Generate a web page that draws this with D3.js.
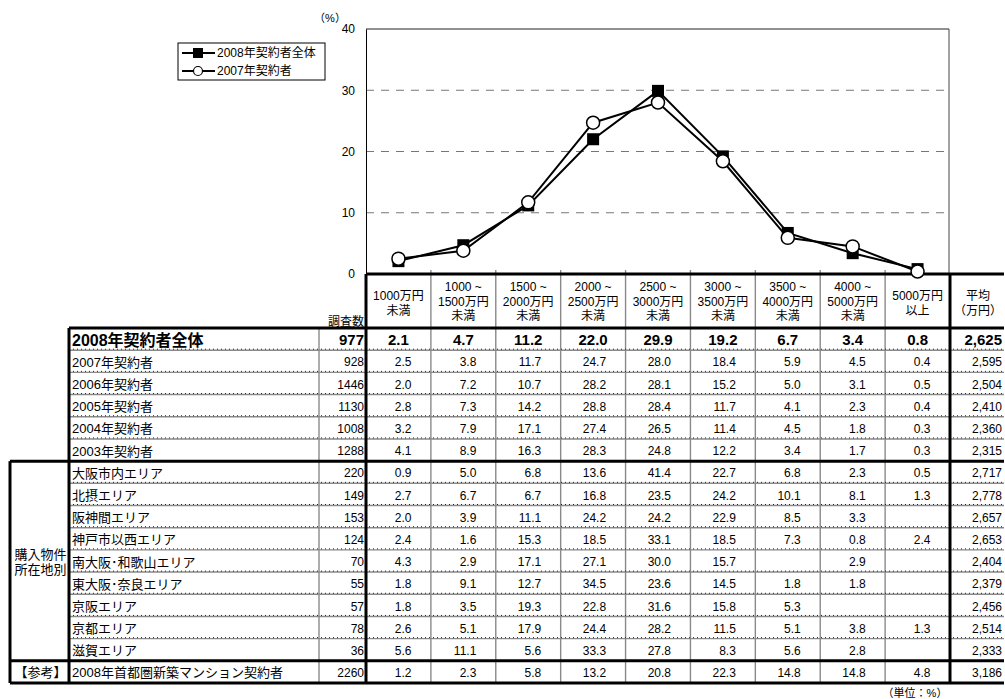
<!DOCTYPE html>
<html>
<head>
<meta charset="utf-8">
<script src="https://cdn.jsdelivr.net/npm/d3@7"></script>
<style>
  body { margin: 0; background: #fff; }
  text { font-family: "Liberation Sans", "Noto Sans CJK JP", sans-serif; fill: #000; }
</style>
</head>
<body>
<svg id="chart"></svg>
<script>
const categories = ["1000万円未満", "1000~1500万円未満", "1500~2000万円未満", "2000~2500万円未満",
  "2500~3000万円未満", "3000~3500万円未満", "3500~4000万円未満", "4000~5000万円未満", "5000万円以上"];
const categoryLines = [
  ["1000万円", "未満"], ["1000 ~", "1500万円", "未満"], ["1500 ~", "2000万円", "未満"],
  ["2000 ~", "2500万円", "未満"], ["2500 ~", "3000万円", "未満"], ["3000 ~", "3500万円", "未満"],
  ["3500 ~", "4000万円", "未満"], ["4000 ~", "5000万円", "未満"], ["5000万円", "以上"]
];
const seriesNames = ["2008年契約者全体", "2007年契約者"];
const series2008 = [2.1, 4.7, 11.2, 22.0, 29.9, 19.2, 6.7, 3.4, 0.8];
const series2007 = [2.5, 3.8, 11.7, 24.7, 28.0, 18.4, 5.9, 4.5, 0.4];
const yTicks = [0, 10, 20, 30, 40];

const rowLabels = ["2008年契約者全体", "2007年契約者", "2006年契約者", "2005年契約者", "2004年契約者",
  "2003年契約者", "大阪市内エリア", "北摂エリア", "阪神間エリア", "神戸市以西エリア",
  "南大阪･和歌山エリア", "東大阪･奈良エリア", "京阪エリア", "京都エリア", "滋賀エリア",
  "2008年首都圏新築マンション契約者"];
const rowCounts = [977, 928, 1446, 1130, 1008, 1288, 220, 149, 153, 124, 70, 55, 57, 78, 36, 2260];
const rowValues = [
  [2.1, 4.7, 11.2, 22.0, 29.9, 19.2, 6.7, 3.4, 0.8],
  [2.5, 3.8, 11.7, 24.7, 28.0, 18.4, 5.9, 4.5, 0.4],
  [2.0, 7.2, 10.7, 28.2, 28.1, 15.2, 5.0, 3.1, 0.5],
  [2.8, 7.3, 14.2, 28.8, 28.4, 11.7, 4.1, 2.3, 0.4],
  [3.2, 7.9, 17.1, 27.4, 26.5, 11.4, 4.5, 1.8, 0.3],
  [4.1, 8.9, 16.3, 28.3, 24.8, 12.2, 3.4, 1.7, 0.3],
  [0.9, 5.0, 6.8, 13.6, 41.4, 22.7, 6.8, 2.3, 0.5],
  [2.7, 6.7, 6.7, 16.8, 23.5, 24.2, 10.1, 8.1, 1.3],
  [2.0, 3.9, 11.1, 24.2, 24.2, 22.9, 8.5, 3.3, null],
  [2.4, 1.6, 15.3, 18.5, 33.1, 18.5, 7.3, 0.8, 2.4],
  [4.3, 2.9, 17.1, 27.1, 30.0, 15.7, null, 2.9, null],
  [1.8, 9.1, 12.7, 34.5, 23.6, 14.5, 1.8, 1.8, null],
  [1.8, 3.5, 19.3, 22.8, 31.6, 15.8, 5.3, null, null],
  [2.6, 5.1, 17.9, 24.4, 28.2, 11.5, 5.1, 3.8, 1.3],
  [5.6, 11.1, 5.6, 33.3, 27.8, 8.3, 5.6, 2.8, null],
  [1.2, 2.3, 5.8, 13.2, 20.8, 22.3, 14.8, 14.8, 4.8]
];
const rowAverages = [2625, 2595, 2504, 2410, 2360, 2315, 2717, 2778, 2657, 2653, 2404, 2379, 2456, 2514, 2333, 3186];
const groupLabels = [
  { lines: ["購入物件", "所在地別"], from: 6, to: 14 },
  { lines: ["【参考】"], from: 15, to: 15 }
];

const w = 1005, h = 699;
const plotL = 366, plotR = 950, plotT = 29, axisY = 274;
const tableTop = 328, tableBottom = 683;
const labelX = 69, countX = 319, groupX = 10, endX = 1004;

const svg = d3.select("#chart").attr("width", w).attr("height", h);

const xScale = d3.scaleBand().domain(categories).range([plotL, plotR]);
const yScale = d3.scaleLinear().domain([0, 40]).range([axisY, plotT]);
const rowScale = d3.scaleBand().domain(d3.range(rowLabels.length)).range([tableTop, tableBottom]);
const cx = (i) => xScale(categories[i]) + xScale.bandwidth() / 2;

// gridlines
svg.append("g").selectAll("line")
  .data(yTicks.filter((t) => t > 0 && t < 40))
  .enter().append("line")
  .attr("x1", plotL).attr("x2", plotR - 1)
  .attr("y1", (d) => yScale(d)).attr("y2", (d) => yScale(d))
  .attr("stroke", "#777").attr("stroke-width", 1).attr("stroke-dasharray", "8,7");

// plot frame
svg.append("line").attr("x1", plotL).attr("x2", plotR - 1).attr("y1", plotT).attr("y2", plotT)
  .attr("stroke", "#222").attr("stroke-width", 1);
svg.append("line").attr("x1", plotR - 1).attr("x2", plotR - 1).attr("y1", plotT).attr("y2", axisY)
  .attr("stroke", "#444").attr("stroke-width", 1);

const yAxis = d3.axisLeft(yScale).tickValues(yTicks).tickSize(0).tickPadding(11);
const yG = svg.append("g").attr("transform", `translate(${plotL}, 0)`).call(yAxis);
yG.select(".domain").attr("stroke", "#000").attr("stroke-width", 1);
yG.selectAll("text").style("font-size", "12px").attr("font-family", null);

svg.append("text").attr("x", 330).attr("y", 22).attr("text-anchor", "middle")
  .style("font-size", "11px").text("（%）");

// table grid (thin)
const thin = svg.append("g").attr("stroke", "#8a8a8a").attr("stroke-width", 1.4);
rowLabels.forEach((d, i) => {
  if (i === 0 || i === 6 || i === 15) return;
  const y = rowScale(i);
  thin.append("line").attr("x1", labelX).attr("x2", endX).attr("y1", y).attr("y2", y);
});
categories.forEach((c, i) => {
  if (i === 0) return;
  thin.append("line").attr("x1", xScale(c)).attr("x2", xScale(c))
    .attr("y1", axisY - 4).attr("y2", tableBottom);
});
thin.append("line").attr("x1", countX).attr("x2", countX).attr("y1", tableTop).attr("y2", tableBottom);

// dotted overlay on thin lines
const dots = svg.append("g").attr("stroke", "#222").attr("stroke-width", 1).attr("stroke-dasharray", "1,3");
rowLabels.forEach((d, i) => {
  if (i === 0 || i === 6 || i === 15) return;
  const y = rowScale(i);
  dots.append("line").attr("x1", labelX).attr("x2", endX).attr("y1", y - 1).attr("y2", y - 1);
});

// thick lines
const thick = svg.append("g").attr("stroke", "#000").attr("stroke-width", 3);
thick.append("line").attr("x1", plotL).attr("x2", endX).attr("y1", axisY).attr("y2", axisY);
thick.append("line").attr("x1", labelX).attr("x2", endX).attr("y1", tableTop).attr("y2", tableTop);
[6, 15].forEach((i) => {
  thick.append("line").attr("x1", groupX).attr("x2", endX).attr("y1", rowScale(i)).attr("y2", rowScale(i));
});
thick.append("line").attr("x1", groupX).attr("x2", endX).attr("y1", tableBottom).attr("y2", tableBottom);
thick.append("line").attr("x1", plotL).attr("x2", plotL).attr("y1", axisY).attr("y2", tableBottom);
thick.append("line").attr("x1", plotR).attr("x2", plotR).attr("y1", axisY).attr("y2", tableBottom);
thick.append("line").attr("x1", labelX).attr("x2", labelX).attr("y1", tableTop).attr("y2", tableBottom);
thick.append("line").attr("x1", groupX).attr("x2", groupX).attr("y1", rowScale(6)).attr("y2", tableBottom);

// header
const header = svg.append("g").style("font-size", "12px").attr("text-anchor", "middle");
categoryLines.forEach((lines, i) => {
  const y0 = lines.length === 3 ? 287 : 296;
  lines.forEach((t, j) => {
    header.append("text").attr("x", cx(i)).attr("y", y0 + j * 14.5).attr("dy", "0.35em").text(t);
  });
});
["平均", "（万円）"].forEach((t, j) => {
  header.append("text").attr("x", (plotR + endX) / 2 + 1).attr("y", 296 + j * 14.5).attr("dy", "0.35em").text(t);
});
header.append("text").attr("x", 364).attr("y", 322).attr("dy", "0.35em")
  .attr("text-anchor", "end").text("調査数");

// rows
const rows = svg.append("g").selectAll("g").data(rowLabels).enter().append("g")
  .attr("transform", (d, i) => `translate(0, ${rowScale(i) + rowScale.bandwidth() / 2 + 1})`)
  .style("font-size", (d, i) => (i === 0 ? "15px" : "12px"))
  .style("font-weight", (d, i) => (i === 0 ? "bold" : "normal"));

rows.append("text").attr("x", 72).attr("dy", "0.35em")
  .style("font-size", (d, i) => (i === 0 ? "16px" : "13px")).text((d) => d);
rows.append("text").attr("x", 364).attr("dy", "0.35em").attr("text-anchor", "end")
  .text((d, i) => rowCounts[i]);
rows.each(function (d, i) {
  const g = d3.select(this);
  rowValues[i].forEach((v, j) => {
    if (v == null) return;
    g.append("text").attr("x", i === 0 ? cx(j) : cx(j) + 13).attr("dy", "0.35em")
      .attr("text-anchor", i === 0 ? "middle" : "end").text(v.toFixed(1));
  });
});
rows.append("text").attr("x", 1002).attr("dy", "0.35em").attr("text-anchor", "end")
  .text((d, i) => d3.format(",")(rowAverages[i]));

// group labels
groupLabels.forEach((gr) => {
  const yc = (rowScale(gr.from) + rowScale(gr.to) + rowScale.bandwidth()) / 2 + 1;
  gr.lines.forEach((t, j) => {
    svg.append("text").attr("x", (groupX + labelX) / 2 + 1)
      .attr("y", yc + (j - (gr.lines.length - 1) / 2) * 15).attr("dy", "0.35em")
      .attr("text-anchor", "middle").style("font-size", "13px").text(t);
  });
});

svg.append("text").attr("x", 915).attr("y", 693).attr("dy", "0.35em").attr("text-anchor", "middle")
  .style("font-size", "11px").text("（単位：%）");

// series lines and markers
const line = d3.line().x((d, i) => cx(i)).y((d) => yScale(d));
svg.append("path").datum(series2008).attr("d", line)
  .attr("fill", "none").attr("stroke", "#000").attr("stroke-width", 2);
svg.append("g").selectAll("rect").data(series2008).enter().append("rect")
  .attr("x", (d, i) => cx(i) - 6).attr("y", (d) => yScale(d) - 6)
  .attr("width", 12).attr("height", 12).attr("fill", "#000");
svg.append("path").datum(series2007).attr("d", line)
  .attr("fill", "none").attr("stroke", "#000").attr("stroke-width", 2);
svg.append("g").selectAll("circle").data(series2007).enter().append("circle")
  .attr("cx", (d, i) => cx(i)).attr("cy", (d) => yScale(d)).attr("r", 6.5)
  .attr("fill", "#fff").attr("stroke", "#000").attr("stroke-width", 1.5);

// legend
const legend = svg.append("g").attr("transform", "translate(178, 43)");
legend.append("rect").attr("width", 147).attr("height", 37)
  .attr("fill", "#fff").attr("stroke", "#000").attr("stroke-width", 1);
const items = legend.selectAll(".legend-item").data(seriesNames).enter().append("g")
  .attr("transform", (d, i) => `translate(0, ${10 + i * 18})`);
items.append("line").attr("x1", 4).attr("x2", 37).attr("stroke", "#000").attr("stroke-width", 2);
items.filter((d, i) => i === 0).append("rect")
  .attr("x", 15).attr("y", -5).attr("width", 10).attr("height", 10).attr("fill", "#000");
items.filter((d, i) => i === 1).append("circle")
  .attr("cx", 20).attr("r", 4.5).attr("fill", "#fff").attr("stroke", "#000").attr("stroke-width", 1.2);
items.append("text").attr("x", 39).attr("dy", "0.35em").style("font-size", "12px").text((d) => d);
</script>
</body>
</html>
